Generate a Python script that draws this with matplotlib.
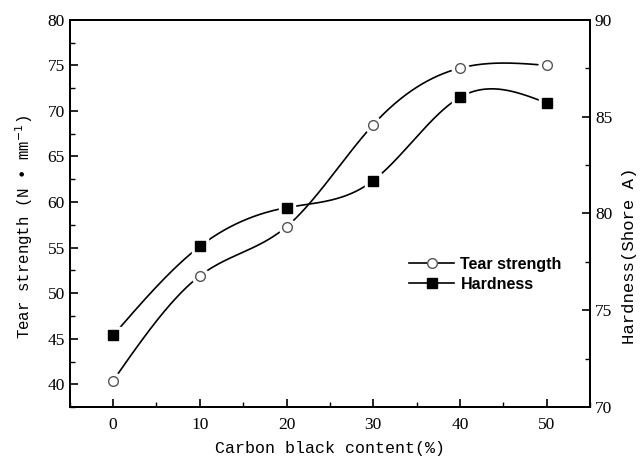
import matplotlib
matplotlib.use("Agg")
import matplotlib.pyplot as plt
from matplotlib.ticker import MultipleLocator
from matplotlib.lines import Line2D
import numpy as np

# values
carbon_black = [0, 10, 20, 30, 40, 50]
tear_strength = [40.4, 51.9, 57.3, 68.5, 74.7, 75.0]
hardness = [73.7, 78.3, 80.3, 81.7, 86.0, 85.7]


def natural_spline(x, y, xs):
    # plain natural cubic spline, no scipy here
    x = np.asarray(x, float)
    y = np.asarray(y, float)
    n = len(x)
    h = np.diff(x)
    A = np.zeros((n, n))
    b = np.zeros(n)
    A[0, 0] = A[-1, -1] = 1
    for i in range(1, n - 1):
        A[i, i - 1] = h[i - 1]
        A[i, i] = 2 * (h[i - 1] + h[i])
        A[i, i + 1] = h[i]
        b[i] = 6 * ((y[i + 1] - y[i]) / h[i] - (y[i] - y[i - 1]) / h[i - 1])
    M = np.linalg.solve(A, b)
    k = np.clip(np.searchsorted(x, xs) - 1, 0, n - 2)
    t0 = x[k + 1] - xs
    t1 = xs - x[k]
    hk = h[k]
    return (M[k] * t0 ** 3 / (6 * hk) + M[k + 1] * t1 ** 3 / (6 * hk)
            + (y[k] / hk - M[k] * hk / 6) * t0
            + (y[k + 1] / hk - M[k + 1] * hk / 6) * t1)


xs = np.linspace(carbon_black[0], carbon_black[-1], 400)

plt.rcParams['font.family'] = ['Liberation Serif', 'DejaVu Serif']
plt.rcParams['xtick.direction'] = 'in'
plt.rcParams['ytick.direction'] = 'in'

fig = plt.figure(figsize=(6.4, 4.61), dpi=100)
ax = fig.add_axes([0.109, 0.117, 0.813, 0.840])
ax2 = ax.twinx()

lw = 1.2
# tear strength on the left axis
ax.plot(xs, natural_spline(carbon_black, tear_strength, xs), color='black', lw=lw, zorder=2)
ax.plot(carbon_black, tear_strength, 'o', ms=12, mfc='white', mec='white', zorder=3)
ax.plot(carbon_black, tear_strength, 'o', ms=7, mfc='white', mec='#555555', mew=1.0, zorder=4)

# hardness on the right axis
ax2.plot(xs, natural_spline(carbon_black, hardness, xs), color='black', lw=lw, zorder=2)
ax2.plot(carbon_black, hardness, 's', ms=11, mfc='white', mec='white', zorder=3)
ax2.plot(carbon_black, hardness, 's', ms=6.5, mfc='black', mec='black', zorder=4)

ax.set_xlim(-5, 55)
ax.set_ylim(37.5, 80)
ax2.set_ylim(70, 90)

ax.xaxis.set_major_locator(MultipleLocator(10))
ax.xaxis.set_minor_locator(MultipleLocator(5))
ax.yaxis.set_major_locator(MultipleLocator(5))
ax.yaxis.set_minor_locator(MultipleLocator(2.5))
ax2.yaxis.set_major_locator(MultipleLocator(5))
ax2.yaxis.set_minor_locator(MultipleLocator(2.5))

for a in (ax, ax2):
    a.tick_params(which='major', length=6, width=1.2, labelsize=12.5)
    a.tick_params(which='minor', length=3.5, width=1.0)
    for s in a.spines.values():
        s.set_linewidth(1.4)
ax.tick_params(axis='x', pad=7)

mono = ['Liberation Mono', 'DejaVu Sans Mono']
ax.set_xlabel('Carbon black content(%)', labelpad=6, family=mono, fontsize=12)
ax.set_ylabel('Tear strength (N \u2022 mm$^{-1}$)', family=mono, fontsize=11.3)
ax.yaxis.set_label_coords(-0.066, 0.465)
ax2.set_ylabel('Hardness(Shore A)', family=mono, fontsize=12.5)
ax2.yaxis.set_label_coords(1.062, 0.39)

handles = [
    Line2D([], [], color='black', lw=lw, marker='o', ms=7, mfc='white', mec='#555555'),
    Line2D([], [], color='black', lw=lw, marker='s', ms=6.5, mfc='black', mec='black'),
]
ax.legend(handles, ['Tear strength', 'Hardness'], loc='upper left',
          bbox_to_anchor=(0.625, 0.425), frameon=False, handlelength=2.8,
          handletextpad=0.4, labelspacing=0.3,
          prop=dict(family='Liberation Sans', weight='bold', size=11.5))

fig.savefig('out.png', dpi=100)
